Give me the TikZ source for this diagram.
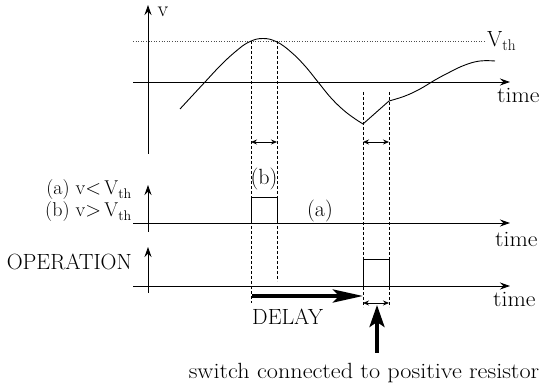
\documentclass[tikz,border=0pt]{standalone}
\usetikzlibrary{arrows.meta}
\newcommand\myVth{V\textsubscript{th}}
\begin{document}
\begin{tikzpicture}[x=1pt,y=-1pt,
  lbl/.style={font=\fontsize{22}{26}\selectfont, inner sep=0pt},
  axis/.style={line width=0.9pt, -{Stealth[length=10pt,width=7pt]}},
  guide/.style={line width=0.7pt, dash pattern=on 3pt off 2pt},
  span/.style={line width=0.8pt, {Stealth[length=6pt,width=5pt]}-{Stealth[length=6pt,width=5pt]}},
  sig/.style={line width=0.9pt, line join=round},
  thr/.style={line width=0.6pt, dotted, black!70},
  pulse/.style={line width=0.9pt},
  bigarrow/.style={line width=4pt, -{Stealth[length=30pt,width=13pt,inset=6pt]}},
  uparrow/.style={line width=3.5pt, -{Stealth[length=22pt,width=15pt,inset=5pt]}},
  ]
\useasboundingbox (0,0) rectangle (544,387);

% coordinates
\coordinate (t0) at (133,82);  \coordinate (t1) at (510,82);
\coordinate (v0) at (148,154); \coordinate (v1) at (148,5);
\coordinate (th0) at (133,41); \coordinate (th1) at (485,41);
\coordinate (m0) at (133,223); \coordinate (m1) at (510,223);
\coordinate (mv0) at (148,232); \coordinate (mv1) at (148,185);
\coordinate (b0) at (133,286); \coordinate (b1) at (510,286);
\coordinate (bv0) at (148,293); \coordinate (bv1) at (148,247);

% axes
\draw[axis] (t0) -- (t1);
\draw[axis] (v0) -- (v1);
\draw[axis] (m0) -- (m1);
\draw[axis] (mv0) -- (mv1);
\draw[axis] (b0) -- (b1);
\draw[axis] (bv0) -- (bv1);
\draw[thr] (th0) -- (th1);

% guides
\coordinate (g1a) at (251,41);  \coordinate (g1b) at (251,303);
\coordinate (g2a) at (277,41);  \coordinate (g2b) at (277,281);
\coordinate (g3a) at (363,92);  \coordinate (g3b) at (363,307);
\coordinate (g4a) at (389,92);  \coordinate (g4b) at (389,307);
\draw[guide] (g1a) -- (g1b);
\draw[guide] (g2a) -- (g2b);
\draw[guide] (g3a) -- (g3b);
\draw[guide] (g4a) -- (g4b);

% spans
\coordinate (s1a) at (251,142); \coordinate (s1b) at (277,142);
\coordinate (s2a) at (363,142); \coordinate (s2b) at (389,142);
\coordinate (s3a) at (363,303); \coordinate (s3b) at (389,303);
\draw[span] (s1a) -- (s1b);
\draw[span] (s2a) -- (s2b);
\draw[span] (s3a) -- (s3b);

% signal curve
\draw[sig] plot[smooth, tension=0.7] coordinates
  {(180,109) (192,96) (205,82) (220,66) (235,52) (249,42) (263,38.5) (277,42) (291,52) (305,66) (318,82) (332,99) (347,113) (363,124)};
\draw[sig] (363,124) -- (389,101);
\draw[sig] plot[smooth, tension=0.7] coordinates
  {(389,101) (405,96) (420,89) (435,80) (450,72) (465,65) (480,61) (495,61)};

% pulses
\draw[pulse] (251,223) -- (251,197) -- (277,197) -- (277,223);
\draw[pulse] (363,286) -- (363,259) -- (389,259) -- (389,286);

% big arrows
\coordinate (d0) at (252,296); \coordinate (d1) at (363,296);
\draw[bigarrow] (d0) -- (d1);
\coordinate (u0) at (377,353); \coordinate (u1) at (377,305);
\draw[uparrow] (u0) -- (u1);

% labels
\node[lbl, anchor=base] (lv) at (163,17) {v};
\node[lbl, anchor=base west] (lvth) at (487,47) {\myVth};
\node[lbl, anchor=base west] (ltime1) at (497,103) {\scalebox{1.08}[1]{time}};
\node[lbl, anchor=base west] (ltime2) at (495,247) {\scalebox{1.08}[1]{time}};
\node[lbl, anchor=base west] (ltime3) at (493,307) {\scalebox{1.08}[1]{time}};
\node[lbl, anchor=base] (lb) at (264,185) {(b)};
\node[lbl, anchor=base] (la) at (320,217) {(a)};
\node[lbl, anchor=base east, font=\fontsize{20}{24}\selectfont] (lca) at (132,195) {(a) v$<$\,\myVth};
\node[lbl, anchor=base east, font=\fontsize{20}{24}\selectfont] (lcb) at (132,217) {(b) v$>$\,\myVth};
\node[lbl, anchor=base east] (lop) at (132,270) {OPERATION};
\node[lbl, anchor=base west] (ldel) at (252,325) {DELAY};
\node[lbl, anchor=base] (lsw) at (364,379) {\scalebox{1.1}[1]{switch connected to positive resistor}};
\end{tikzpicture}
\end{document}
